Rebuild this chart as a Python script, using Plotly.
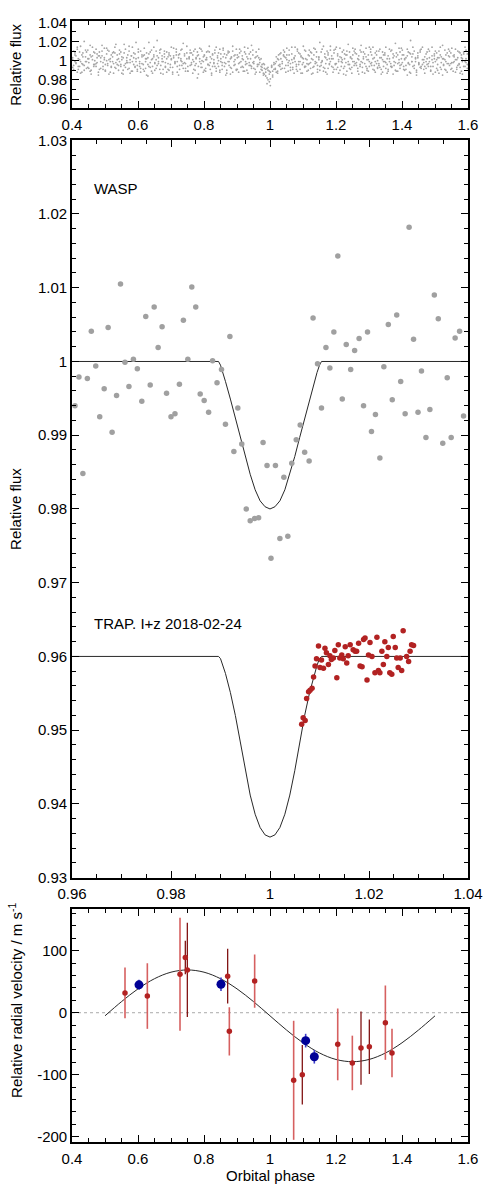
import plotly.graph_objects as go

# ---------------- data ----------------
# Top panel: unbinned WASP photometry (phase in 1e-3, flux deviation in 1e-3)
wasp_raw_phase_k = [
 402,405,409,412,416,419,423,426,430,433,437,441,444,448,451,455,458,462,466,469,
 473,476,480,483,487,491,494,498,501,505,508,512,516,519,523,526,530,533,537,541,
 544,548,551,555,558,562,566,569,573,576,580,583,587,591,594,598,601,605,608,612,
 616,619,623,626,630,633,637,641,644,648,651,655,658,662,666,669,673,676,680,683,
 687,691,694,698,701,705,708,712,716,719,723,726,730,733,737,741,744,748,751,755,
 758,762,766,769,773,776,780,783,787,791,794,798,801,805,808,812,816,819,823,826,
 830,833,837,841,844,848,851,855,858,862,866,869,873,876,880,883,887,891,894,898,
 901,905,908,912,916,919,923,926,930,933,937,941,944,948,951,955,958,962,966,969,
 973,976,980,983,987,991,994,998,1001,1005,1008,1012,1016,1019,1023,1026,1030,1033,1037,1041,
 1044,1048,1051,1055,1058,1062,1066,1069,1073,1076,1080,1083,1087,1091,1094,1098,1101,1105,1108,1112,
 1116,1119,1123,1126,1130,1133,1137,1141,1144,1148,1151,1155,1158,1162,1166,1169,1173,1176,1180,1183,
 1187,1191,1194,1198,1201,1205,1208,1212,1216,1219,1223,1226,1230,1233,1237,1241,1244,1248,1251,1255,
 1258,1262,1266,1269,1273,1276,1280,1283,1287,1291,1294,1298,1301,1305,1308,1312,1316,1319,1323,1326,
 1330,1333,1337,1341,1344,1348,1351,1355,1358,1362,1366,1369,1373,1376,1380,1383,1387,1391,1394,1398,
 1401,1405,1408,1412,1416,1419,1423,1426,1430,1433,1437,1441,1444,1448,1451,1455,1458,1462,1466,1469,
 1473,1476,1480,1483,1487,1491,1494,1498,1501,1505,1508,1512,1516,1519,1523,1526,1530,1533,1537,1541,
 1544,1548,1551,1555,1558,1562,1566,1569,1573,1576,1580,1583,1587,1591,1594,1598]
wasp_raw_dev_a = [
 3,-5,8,-2,12,-9,1,-13,6,-4,20,-1,9,-7,2,-11,4,14,-6,0,
 -3,7,-15,5,-8,10,-2,3,-10,13,-5,1,-12,6,-1,9,-7,17,-4,2,
 11,-6,4,-14,8,-3,0,-9,15,-2,5,-11,3,-7,19,-5,9,-1,-12,6,
 -4,13,-8,2,-16,7,-2,11,-6,4,-10,1,21,-3,8,-13,5,-1,10,-7,
 2,-9,6,-4,14,-12,3,-1,9,-6,-15,7,0,12,-3,5,-8,2,-11,4,
 8,-2,-13,10,-5,3,-18,6,-1,12,-7,4,-10,1,9,-4,15,-9,2,-6,
 -3,11,-8,5,0,-12,7,-2,13,-6,3,-10,8,-1,-14,4,10,-5,1,-9,
 6,-3,12,-7,2,-11,9,-1,4,-13,7,-5,16,-2,-8,3,-12,5,-4,1,
 -6,-10,-3,-14,-9,-18,-7,-22,-12,-5,-15,-2,-9,4,-11,1,-6,8,-3,11,
 -8,3,13,-5,0,-10,7,-2,-13,5,-6,10,-1,-9,4,-4,15,-7,2,-11,
 6,-3,9,-14,1,-6,12,-2,-9,4,19,-5,0,-11,7,-3,10,-8,2,-1,
 5,-12,8,-4,14,-7,1,-10,3,-2,11,-6,-15,6,-1,9,-9,2,13,-5,
 -3,7,-11,1,-6,16,-2,9,-13,4,-8,6,-1,12,-5,2,-10,8,-3,0,
 10,-7,3,-12,6,-1,14,-4,-9,2,-6,11,-14,5,-2,8,-11,1,-5,13,
 -2,6,-10,3,-15,9,-4,21,-1,7,-8,2,-12,5,-3,11,-6,1,-9,4,
 7,-4,12,-1,-11,5,-6,2,10,-8,3,-13,6,-2,16,-5,1,-10,8,-3,
 4,-9,13,-2,6,-12,1,-5,9,-7,3,-14,7,-1,11,-4]
wasp_raw_dev_b = [
 -7,10,-1,5,-12,2,-6,15,-3,8,-10,4,-1,11,-8,6,-14,1,9,-4,
 12,-2,5,-9,3,16,-6,1,-11,7,-3,10,-1,-7,4,-13,8,-2,6,-10,
 -1,9,-13,3,-5,12,-2,6,-8,1,-11,14,-4,7,-1,-9,3,-6,10,-3,
 5,-11,2,8,-4,19,-7,1,-13,6,-2,10,-5,3,-9,12,-1,-14,4,-6,
 9,-3,-10,5,1,-7,13,-2,6,-12,3,-5,11,-1,-8,7,-3,15,-11,2,
 -5,8,1,-9,12,-3,5,-14,2,-7,10,-1,6,-11,3,-4,9,-2,-13,7,
 1,-6,14,-3,8,-10,2,-5,11,-2,-15,6,-1,9,-7,3,-12,5,-4,12,
 -9,4,-2,10,-6,1,-11,7,-3,13,-5,2,-8,6,-1,-14,9,-4,3,-12,
 2,-7,-13,-4,-16,-8,-20,-11,-26,-6,-17,-9,-3,-12,2,-5,7,-9,-1,5,
 4,-12,6,-2,11,-7,1,-9,3,14,-4,-11,8,-1,5,-13,2,-6,10,-3,
 -10,5,-2,8,-7,13,-3,4,-12,1,-6,9,-1,15,-8,3,-14,6,-4,11,
 -6,2,-9,12,-3,7,-13,4,-1,9,-8,2,6,-11,17,-4,3,-7,-1,10,
 8,-5,2,-14,11,-1,-7,4,-3,13,-10,1,-6,9,-2,14,-5,-12,6,-8,
 -3,12,-9,1,-6,8,-2,-13,5,-1,10,-7,3,-5,18,-11,6,-2,9,-4,
 11,-6,2,-9,5,-3,-12,7,-1,14,-5,3,-10,8,-2,-7,12,-4,1,-13,
 -1,9,-6,3,-10,14,-2,7,-12,1,-4,10,-7,4,-15,2,-9,6,-3,12,
 -5,8,-2,-11,4,1,-7,10,-3,-13,6,-1,9,-6,2,-8]
wasp_raw_dev_c = [
 1,-9,6,-3,14,-6,9,-1,-12,4,-5,11,-8,2,-2,16,-10,5,-4,8,
 -6,3,-12,9,-1,5,-9,13,-4,0,11,-14,2,-6,8,-3,14,-8,1,-5,
 7,-4,1,-10,17,-7,3,-2,10,-13,5,-1,8,-6,2,-11,12,-3,-8,4,
 -9,6,-1,-15,3,-6,9,-11,2,14,-3,-8,5,-1,11,-5,2,-9,7,-2,
 -12,4,8,-7,2,-14,5,-3,12,-1,6,-9,2,-5,18,-2,-11,8,-6,3,
 11,-4,6,-1,-10,2,9,-6,13,-3,0,-12,5,-8,1,10,-5,4,-15,6,
 -2,8,-11,3,-6,12,-1,-9,4,7,-3,-13,10,-5,2,-8,15,-1,6,-10,
 3,-12,8,-1,5,-7,14,-4,-10,2,-2,9,-6,11,-3,-9,4,-6,12,-2,
 -9,-4,-15,-8,-12,-24,-10,-14,-19,-7,-11,-4,-8,-1,-13,6,-4,2,-8,6,
 9,-5,1,-11,6,-3,14,-7,2,-1,-9,12,-4,7,-13,3,-2,11,-6,1,
 -4,11,-8,2,-13,6,-1,9,-5,3,-10,-2,12,-7,4,-12,1,8,-3,15,
 2,-7,11,-3,-9,5,-1,13,-6,1,-14,7,-2,10,-4,-8,4,-13,6,-1,
 12,-2,-8,5,-4,9,-12,2,7,-6,1,-11,14,-3,6,-9,3,-1,10,-7,
 -5,3,-14,9,-1,6,-8,2,-11,12,-3,-6,7,-1,-10,4,-3,13,-8,2,
 6,-9,1,-5,12,-2,8,-13,4,-6,10,-1,-15,3,-4,9,-8,14,-2,-6,
 -8,2,-3,10,-6,1,-14,5,-1,8,-10,3,14,-9,2,-4,11,-1,-12,5,
 10,-3,-8,5,-1,12,-9,3,-4,8,-11,2,-6,14,-2,7]

# Middle panel: binned WASP photometry
wasp_bin_phase = [
 0.9606,0.9614,0.9622,0.9631,0.9639,0.9648,0.9656,0.9665,0.9673,0.9681,
 0.9690,0.9698,0.9707,0.9715,0.9724,0.9732,0.9741,0.9749,0.9758,0.9766,
 0.9774,0.9782,0.9791,0.9800,0.9808,0.9817,0.9825,0.9834,0.9842,0.9850,
 0.9859,0.9867,0.9876,0.9884,0.9893,0.9902,0.9910,0.9919,0.9927,0.9935,
 0.9943,0.9952,0.9960,0.9969,0.9977,0.9986,0.9994,1.0002,1.0011,1.0020,
 1.0028,1.0036,1.0044,1.0053,1.0061,1.0070,1.0079,1.0087,1.0096,1.0104,
 1.0113,1.0121,1.0129,1.0137,1.0146,1.0154,1.0163,1.0171,1.0180,1.0189,
 1.0197,1.0205,1.0213,1.0222,1.0230,1.0239,1.0247,1.0256,1.0264,1.0273,
 1.0281,1.0290,1.0299,1.0306,1.0315,1.0323,1.0332,1.0340,1.0349,1.0358,
 1.0366,1.0374,1.0383,1.0391]
wasp_bin_flux = [
 0.9940,0.9979,0.9848,0.9977,1.0041,0.9994,0.9925,0.9963,1.0046,0.9904,
 0.9954,1.0105,0.9999,0.9966,1.0003,0.9990,0.9946,1.0061,0.9968,1.0074,
 1.0019,1.0047,0.9957,0.9925,0.9929,0.9969,1.0056,1.0003,1.0101,1.0074,
 0.9956,0.9947,0.9931,1.0001,0.9971,0.9989,0.9915,1.0034,0.9878,0.9937,
 0.9888,0.9800,0.9784,0.9787,0.9788,0.9890,0.9859,0.9733,0.9859,0.9760,
 0.9843,0.9763,0.9862,0.9894,0.9914,0.9877,0.9865,1.0059,0.9997,0.9937,
 1.0019,0.9991,1.0040,1.0143,0.9949,1.0023,0.9989,1.0015,1.0031,0.9940,
 1.0040,0.9905,0.9928,0.9869,0.9993,1.0050,0.9948,1.0063,0.9973,0.9929,
 1.0182,1.0030,0.9931,0.9987,0.9897,0.9935,1.0090,1.0058,0.9889,0.9978,
 0.9897,1.0032,1.0041,0.9926]

# Model transit curves
model_phase = [0.9600,0.9896,0.9900,0.9905,0.9910,0.9920,0.9930,0.9940,0.9950,
               0.9960,0.9970,0.9980,0.9990,1.0000,1.0010,1.0020,1.0030,1.0040,
               1.0050,1.0060,1.0070,1.0080,1.0090,1.0095,1.0100,1.0104,1.0400]
wasp_model_flux = [1.0000,1.0000,0.9995,0.9985,0.9973,0.9949,0.9923,0.9897,0.9871,
                   0.9847,0.9826,0.9811,0.9803,0.9800,0.9803,0.9811,0.9826,0.9847,
                   0.9871,0.9897,0.9923,0.9949,0.9973,0.9985,0.9995,1.0000,1.0000]
trap_model_flux = [0.9600,0.9600,0.9597,0.9588,0.9577,0.9551,0.9520,0.9484,0.9445,
                   0.9412,0.9386,0.9368,0.9358,0.9355,0.9358,0.9368,0.9386,0.9412,
                   0.9445,0.9484,0.9520,0.9551,0.9577,0.9588,0.9597,0.9600,0.9600]

# TRAPPIST I+z photometry
trap_phase = [
 1.0064,1.0067,1.0071,1.0074,1.0078,1.0081,1.0085,1.0088,1.0091,1.0094,
 1.0098,1.0101,1.0104,1.0108,1.0111,1.0114,1.0118,1.0121,1.0124,1.0128,
 1.0131,1.0135,1.0138,1.0141,1.0145,1.0148,1.0152,1.0155,1.0158,1.0162,
 1.0168,1.0172,1.0175,1.0179,1.0182,1.0186,1.0189,1.0192,1.0196,1.0199,
 1.0202,1.0206,1.0212,1.0216,1.0219,1.0222,1.0226,1.0229,1.0232,1.0236,
 1.0239,1.0242,1.0246,1.0249,1.0253,1.0256,1.0259,1.0263,1.0266,1.0269,
 1.0276,1.0280,1.0283,1.0286,1.0290]
trap_flux = [
 0.9508,0.9517,0.9513,0.9543,0.9552,0.9554,0.9557,0.9572,0.9587,0.9597,
 0.9614,0.9585,0.9595,0.9584,0.9611,0.9605,0.9589,0.9601,0.9596,0.9598,
 0.9608,0.9571,0.9616,0.9598,0.9602,0.9597,0.9613,0.9591,0.9601,0.9616,
 0.9609,0.9607,0.9607,0.9618,0.9587,0.9586,0.9623,0.9625,0.9568,0.9602,
 0.9619,0.9600,0.9578,0.9626,0.9581,0.9578,0.9607,0.9589,0.9620,0.9600,
 0.9612,0.9578,0.9576,0.9627,0.9612,0.9598,0.9585,0.9598,0.9581,0.9635,
 0.9600,0.9593,0.9607,0.9616,0.9615]

# Radial velocities (m/s)
rv_light_phase = [0.5606,0.6283,0.7273,0.8768,0.9535,1.0717,1.2052,1.2495,1.3496,1.3697]
rv_light_val   = [32, 27, 62, -30, 51, -109, -51, -81, -16, -65]
rv_light_err   = [41, 53, 91, 39, 43, 96, 58, 44, 60, 39]
rv_dark_phase = [0.7434,0.7495,0.8717,1.0979,1.2758,1.3010]
rv_dark_val   = [89, 69, 59, -100, -57, -55]
rv_dark_err   = [27, 76, 44, 48, 59, 44]
rv_blue_phase = [0.603, 0.8515, 1.1081, 1.1343]
rv_blue_val   = [45, 46, -45, -71]
rv_blue_err   = [8, 11, 11, 11]

rv_model_phase = [0.50,0.55,0.60,0.65,0.70,0.75,0.80,0.85,0.90,0.95,1.00,
                  1.05,1.10,1.15,1.20,1.25,1.30,1.35,1.40,1.45,1.50]
rv_model_val = [-5,17.9,38.5,54.9,65.4,69,65.4,54.9,38.5,17.9,-5,
                -27.9,-48.5,-64.9,-75.4,-79,-75.4,-64.9,-48.5,-27.9,-5]
rv_zero = [0, 0]
rv_zero_phase = [0.4, 1.6]

# tick labels
top_y_ticks = [0.96, 0.98, 1.0, 1.02, 1.04]
top_y_text = ["0.96", "0.98", "1", "1.02", "1.04"]
mid_y_ticks = [0.93, 0.94, 0.95, 0.96, 0.97, 0.98, 0.99, 1.0, 1.01, 1.02, 1.03]
mid_y_text = ["0.93", "0.94", "0.95", "0.96", "0.97", "0.98", "0.99", "1", "1.01", "1.02", "1.03"]
mid_x_ticks = [0.96, 0.98, 1.0, 1.02, 1.04]
mid_x_text = ["0.96", "0.98", "1", "1.02", "1.04"]
phase_ticks = [0.4, 0.6, 0.8, 1.0, 1.2, 1.4, 1.6]
phase_text = ["0.4", "0.6", "0.8", "1", "1.2", "1.4", "1.6"]
rv_ticks = [-200, -100, 0, 100]
rv_text = ["-200", "-100", "0", "100"]

# ---------------- figure ----------------
FONT = "Liberation Sans, Arial, Helvetica, sans-serif"
GREY = "rgb(160,160,160)"
RED = "rgb(178,34,34)"
BLUE = "rgb(0,0,150)"

fig = go.Figure()

raw_x = [p / 1000 for p in wasp_raw_phase_k]
raw_y = ([1 + d / 1000 for d in wasp_raw_dev_a] + [1 + d / 1000 for d in wasp_raw_dev_b]
         + [1 + d / 1000 for d in wasp_raw_dev_c])
fig.add_trace(go.Scatter(x=raw_x * 3, y=raw_y,
                         mode="markers", marker=dict(size=1.8, color="rgb(165,165,165)"),
                         xaxis="x", yaxis="y", showlegend=False))

fig.add_trace(go.Scatter(x=model_phase, y=wasp_model_flux, mode="lines",
                         line=dict(color="rgb(40,40,40)", width=1),
                         xaxis="x2", yaxis="y2", showlegend=False))
fig.add_trace(go.Scatter(x=model_phase, y=trap_model_flux, mode="lines",
                         line=dict(color="rgb(40,40,40)", width=1),
                         xaxis="x2", yaxis="y2", showlegend=False))
fig.add_trace(go.Scatter(x=wasp_bin_phase, y=wasp_bin_flux, mode="markers",
                         marker=dict(size=5.5, color=GREY),
                         xaxis="x2", yaxis="y2", showlegend=False))
fig.add_trace(go.Scatter(x=trap_phase, y=trap_flux, mode="markers",
                         marker=dict(size=5.5, color=RED),
                         xaxis="x2", yaxis="y2", showlegend=False))

fig.add_trace(go.Scatter(x=rv_zero_phase, y=rv_zero, mode="lines",
                         line=dict(color="rgb(170,170,170)", width=1, dash="dot"),
                         xaxis="x3", yaxis="y3", showlegend=False))
fig.add_trace(go.Scatter(x=rv_model_phase, y=rv_model_val, mode="lines",
                         line=dict(color="rgb(40,40,40)", width=1, shape="spline"),
                         xaxis="x3", yaxis="y3", showlegend=False))
fig.add_trace(go.Scatter(x=rv_light_phase, y=rv_light_val, mode="markers",
                         marker=dict(size=5.5, color=RED),
                         error_y=dict(type="data", array=rv_light_err, color="rgb(214,96,96)",
                                      thickness=1.6, width=0),
                         xaxis="x3", yaxis="y3", showlegend=False))
fig.add_trace(go.Scatter(x=rv_dark_phase, y=rv_dark_val, mode="markers",
                         marker=dict(size=5.5, color=RED),
                         error_y=dict(type="data", array=rv_dark_err, color="rgb(130,20,20)",
                                      thickness=1.3, width=0),
                         xaxis="x3", yaxis="y3", showlegend=False))
fig.add_trace(go.Scatter(x=rv_blue_phase, y=rv_blue_val, mode="markers",
                         marker=dict(size=9, color=BLUE),
                         error_y=dict(type="data", array=rv_blue_err, color="rgb(60,60,200)",
                                      thickness=1.6, width=0),
                         xaxis="x3", yaxis="y3", showlegend=False))

H = 1128.0  # plot height in px


def ydom(top_px, bot_px):
    return [1 - (bot_px - 14) / H, 1 - (top_px - 14) / H]


axis_common = dict(showline=True, linecolor="black", linewidth=1.6, mirror="allticks",
                   ticks="inside", ticklen=7, tickwidth=1, tickcolor="black",
                   showgrid=False, zeroline=False,
                   tickfont=dict(family=FONT, size=15, color="black"))
x_common = dict(axis_common, ticklabelstandoff=2)

fig.update_layout(
    width=496, height=1190,
    margin=dict(l=72, r=28, t=14, b=48),
    paper_bgcolor="white", plot_bgcolor="white",
    font=dict(family=FONT, size=15, color="black"),
    xaxis=dict(x_common, domain=[0, 1], range=[0.4, 1.6], anchor="y",
               tickvals=phase_ticks, ticktext=phase_text,
               minor=dict(dtick=0.05, ticks="inside", ticklen=4, tickcolor="black")),
    yaxis=dict(axis_common, domain=ydom(14.3, 101.7), range=[0.9505, 1.041], anchor="x",
               tickvals=top_y_ticks, ticktext=top_y_text,
               minor=dict(dtick=0.01, ticks="inside", ticklen=4, tickcolor="black")),
    xaxis2=dict(x_common, domain=[0, 1], range=[0.96, 1.04], anchor="y2",
                tickvals=mid_x_ticks, ticktext=mid_x_text,
                minor=dict(dtick=0.005, ticks="inside", ticklen=4, tickcolor="black")),
    yaxis2=dict(axis_common, domain=ydom(134, 876), range=[0.93, 1.03], anchor="x2",
                tickvals=mid_y_ticks, ticktext=mid_y_text,
                minor=dict(dtick=0.002, ticks="inside", ticklen=4, tickcolor="black")),
    xaxis3=dict(x_common, domain=[0, 1], range=[0.4, 1.6], anchor="y3",
                tickvals=phase_ticks, ticktext=phase_text,
                minor=dict(dtick=0.05, ticks="inside", ticklen=4, tickcolor="black")),
    yaxis3=dict(axis_common, domain=ydom(907.3, 1142), range=[-208.5, 167.7], anchor="x3",
                tickvals=rv_ticks, ticktext=rv_text,
                minor=dict(dtick=20, ticks="inside", ticklen=4, tickcolor="black")),
)

ann = dict(showarrow=False, font=dict(family=FONT, size=15, color="black"))
fig.add_annotation(ann, text="Relative flux", textangle=-90, xref="paper", yref="paper",
                   x=(16 - 72) / 396, y=1 - (58 - 14) / H, xanchor="center", yanchor="middle")
fig.add_annotation(ann, text="Relative flux", textangle=-90, xref="paper", yref="paper",
                   x=(16 - 72) / 396, y=1 - (505 - 14) / H, xanchor="center", yanchor="middle")
fig.add_annotation(ann, text="Relative radial velocity / m s<sup>-1</sup>", textangle=-90,
                   xref="paper", yref="paper",
                   x=(16 - 72) / 396, y=1 - (1000 - 14) / H, xanchor="center", yanchor="middle")
fig.add_annotation(ann, text="Orbital phase", xref="paper", yref="paper",
                   x=0.5, y=1 - (1176 - 14) / H, xanchor="center", yanchor="middle")
fig.add_annotation(ann, text="WASP", xref="x2", yref="y2", x=0.9641, y=1.0235,
                   xanchor="left", yanchor="middle")
fig.add_annotation(ann, text="TRAP. I+z 2018-02-24", xref="x2", yref="y2", x=0.9641, y=0.9645,
                   xanchor="left", yanchor="middle")

fig.write_html("out.html")
